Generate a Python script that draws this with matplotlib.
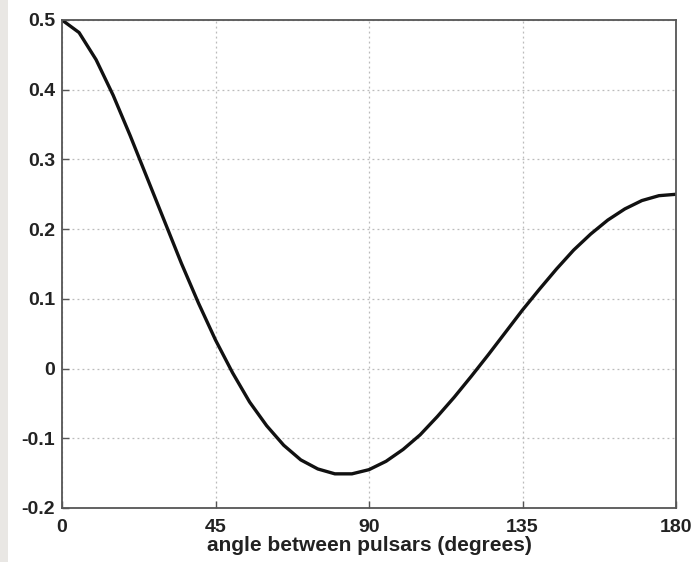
import matplotlib
matplotlib.use("Agg")
import matplotlib.pyplot as plt
from matplotlib.patches import Rectangle

# values (correlation vs angle)
angle_deg = [0, 5, 10, 15, 20, 25, 30, 35, 40, 45, 50, 55, 60, 65, 70, 75, 80, 85, 90,
             95, 100, 105, 110, 115, 120, 125, 130, 135, 140, 145, 150, 155, 160, 165,
             170, 175, 180]
correlation = [0.500, 0.482, 0.443, 0.392, 0.334, 0.273, 0.212, 0.151, 0.094, 0.041,
               -0.006, -0.048, -0.082, -0.110, -0.131, -0.144, -0.151, -0.151, -0.145,
               -0.133, -0.116, -0.095, -0.069, -0.041, -0.011, 0.020, 0.052, 0.084,
               0.114, 0.143, 0.170, 0.193, 0.213, 0.229, 0.241, 0.248, 0.250]
xticks = [0, 45, 90, 135, 180]
yticks = [-0.2, -0.1, 0, 0.1, 0.2, 0.3, 0.4, 0.5]
ytick_labels = ["-0.2", "-0.1", "0", "0.1", "0.2", "0.3", "0.4", "0.5"]

plt.rcParams["font.family"] = ["Liberation Sans", "DejaVu Sans"]
plt.rcParams["font.weight"] = "bold"

fig = plt.figure(figsize=(6.93, 5.62), dpi=100)
fig.patches.append(Rectangle((0, 0), 8 / 693, 1, transform=fig.transFigure,
                             facecolor="#e9e7e4", edgecolor="none"))
ax = fig.add_axes([62 / 693, 54 / 562, 614 / 693, 488 / 562])

ax.plot(angle_deg, correlation, color="#111111", linewidth=2.4)

ax.set_xlim(0, 180)
ax.set_ylim(-0.2, 0.5)
ax.set_xticks(xticks)
ax.set_yticks(yticks)
ax.set_yticklabels(ytick_labels)
ax.tick_params(direction="in", length=5, width=1, labelsize=14, color="#555555",
               labelcolor="#222222")
ax.tick_params(axis="x", pad=8)
ax.tick_params(axis="y", pad=5)
ax.grid(True, linestyle=(0, (1.5, 2.5)), color="#bbbbbb", linewidth=0.9)
for s in ax.spines.values():
    s.set_color("#555555")
    s.set_linewidth(1.3)

ax.set_xlabel("angle between pulsars (degrees)", fontsize=15, fontweight="bold",
              labelpad=0, color="#222222")

fig.savefig("out.png", dpi=100)
